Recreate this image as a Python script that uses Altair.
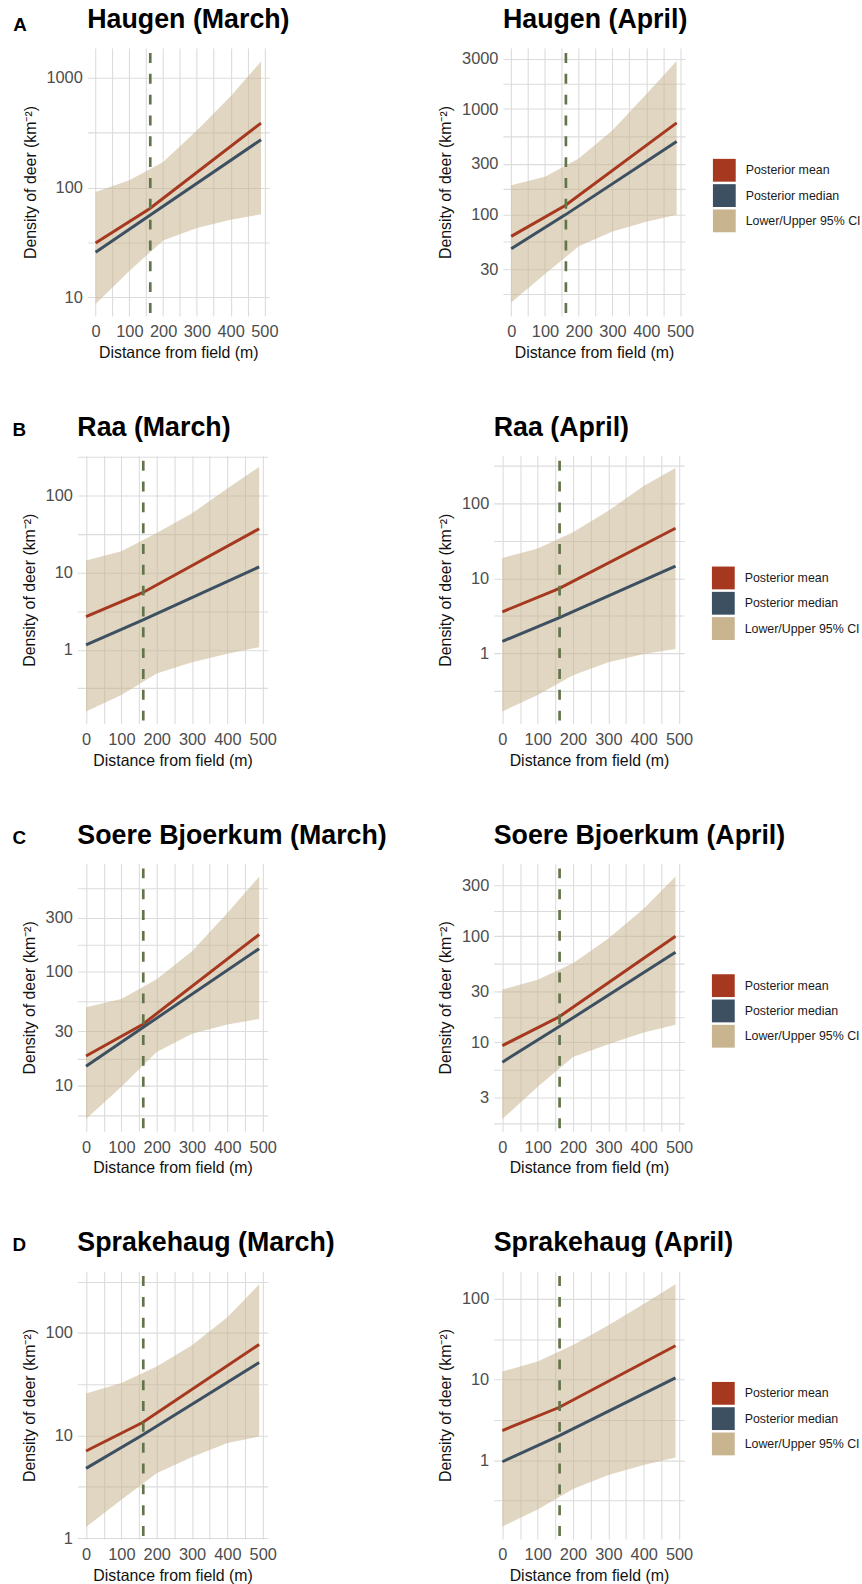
import altair as alt
import pandas as pd

# ---------------- data ----------------
X_BAND = [0, 100, 200, 300, 400, 490]      # x positions of ribbon readings (m)
X_LINE = [0, 160, 490]                      # x positions of line readings (m)
FIELD_EDGE = [162]                          # dashed vertical line (m)

LETTERS = ["A", "B", "C", "D"]
SITES = ["Haugen", "Raa", "Soere Bjoerkum", "Sprakehaug"]
MONTHS = ["March", "April"]
SERIES = ["Posterior mean", "Posterior median", "Lower/Upper 95% CI"]
COLORS = ["#a6381f", "#3c5061", "#c8b48e"]

# Haugen
haugen_march_mean = [31.3, 64, 385]
haugen_march_median = [25.8, 55.6, 272]
haugen_march_lower = [8.7, 17.4, 33, 42.7, 50.8, 57]
haugen_march_upper = [91, 116, 170, 330, 676, 1400]
haugen_april_mean = [61.6, 121, 738]
haugen_april_median = [47, 98.6, 491]
haugen_april_lower = [14.5, 27, 49.6, 68.6, 85, 98.6]
haugen_april_upper = [189, 227, 338, 627, 1380, 2860]
# Raa
raa_march_mean = [2.69, 5.5, 37.2]
raa_march_median = [1.16, 2.43, 11.9]
raa_march_lower = [0.158, 0.258, 0.49, 0.69, 0.89, 1.08]
raa_march_upper = [14.4, 19, 32.7, 59, 124, 236]
raa_april_mean = [3.58, 7.3, 46.8]
raa_april_median = [1.44, 2.98, 14.6]
raa_april_lower = [0.167, 0.277, 0.51, 0.76, 0.98, 1.14]
raa_april_upper = [18.8, 25, 41.5, 80, 171, 298]
# Soere Bjoerkum
soere_march_mean = [18.2, 34.5, 213]
soere_march_median = [14.8, 32.3, 160]
soere_march_lower = [5.08, 9.8, 19.8, 28.6, 34.5, 38.6]
soere_march_upper = [48.9, 57.8, 86, 152, 329, 687]
soere_april_mean = [9.3, 17.3, 100]
soere_april_median = [6.5, 14.0, 70.5]
soere_april_lower = [1.89, 3.81, 7.25, 9.6, 12.4, 14.6]
soere_april_upper = [31.4, 38.9, 55.6, 95, 181, 365]
# Sprakehaug
sprake_march_mean = [7.07, 13.4, 77.3]
sprake_march_median = [4.78, 10.1, 51.5]
sprake_march_lower = [1.28, 2.37, 4.28, 6.19, 8.44, 9.78]
sprake_march_upper = [25.7, 32.6, 47.1, 76, 142.5, 298]
sprake_april_mean = [2.33, 4.5, 26.3]
sprake_april_median = [0.955, 2.0, 10.5]
sprake_april_lower = [0.15, 0.244, 0.437, 0.655, 0.868, 1.08]
sprake_april_upper = [12.6, 16.8, 26.8, 47.1, 86.9, 153]

# y-axis ranges and tick labels (major = labelled, minor = grid only)
Y_DOMAINS = [[[6.8, 1850], [10.8, 3800]],
             [[0.11, 330], [0.115, 435]],
             [[3.97, 898], [1.45, 485]],
             [[0.98, 401], [0.105, 222]]]
Y_MAJOR = [[[10, 100, 1000], [30, 100, 300, 1000, 3000]],
           [[1, 10, 100], [1, 10, 100]],
           [[10, 30, 100, 300], [3, 10, 30, 100, 300]],
           [[1, 10, 100], [1, 10, 100]]]
Y_MINOR = [[[31.6, 316], [17.3, 54.8, 173, 548, 1732]],
           [[0.316, 3.16, 31.6, 316], [0.316, 3.16, 31.6, 316]],
           [[5.48, 17.3, 54.8, 173, 548], [1.73, 5.48, 17.3, 54.8, 173]],
           [[3.16, 31.6, 316], [0.316, 3.16, 31.6]]]
X_TICKS = [0, 50, 100, 150, 200, 250, 300, 350, 400, 450, 500]

PANELS = [
    [(haugen_march_mean, haugen_march_median, haugen_march_lower, haugen_march_upper),
     (haugen_april_mean, haugen_april_median, haugen_april_lower, haugen_april_upper)],
    [(raa_march_mean, raa_march_median, raa_march_lower, raa_march_upper),
     (raa_april_mean, raa_april_median, raa_april_lower, raa_april_upper)],
    [(soere_march_mean, soere_march_median, soere_march_lower, soere_march_upper),
     (soere_april_mean, soere_april_median, soere_april_lower, soere_april_upper)],
    [(sprake_march_mean, sprake_march_median, sprake_march_lower, sprake_march_upper),
     (sprake_april_mean, sprake_april_median, sprake_april_lower, sprake_april_upper)],
]

# ---------------- layout settings ----------------
FONT = "Liberation Sans"
ROW_WIDTH = [183.5, 192, 192, 192]
ROW_SPACING = [235, 227.7, 227.7, 227.7]
ROW_INDENT = [10.4, 1, 1, 1]          # row A's panels sit a little further right
LETTER_DX = [74.7, 65.3, 65.3, 65.3]
LETTER_Y = [-17, -20, -20, -20]
LEGEND_X = [211.7, 220, 220, 220]
PLOT_H = 270

color_scale = alt.Scale(domain=SERIES, range=COLORS)
x_scale = alt.Scale(domain=[-24.5, 514.5], nice=False, zero=False)
x_axis = alt.Axis(values=X_TICKS, title="Distance from field (m)",
                  labelExpr="datum.value % 100 === 0 ? datum.label : ''",
                  labelFlush=False, labelOverlap=False, labelPadding=8, titlePadding=4.5)


def text_layer(text, x, y, size):
    return alt.Chart(alt.Data(values=[{"t": text}])).mark_text(
        align="left", baseline="alphabetic", font=FONT, fontSize=size,
        fontWeight="bold", color="black").encode(
        text="t:N", x=alt.value(x), y=alt.value(y))


def spacer(w):
    return alt.Chart(alt.Data(values=[{"s": 0}])).mark_point(opacity=0).properties(
        width=w, height=PLOT_H)


def panel(r, c):
    mean, median, lower, upper = PANELS[r][c]
    majors, minors = Y_MAJOR[r][c], Y_MINOR[r][c]
    band_df = pd.DataFrame({"x": X_BAND, "lower": lower, "upper": upper,
                            "series": [SERIES[2]] * len(X_BAND)})
    line_df = pd.DataFrame({"x": X_LINE + X_LINE, "value": mean + median,
                            "series": [SERIES[0]] * len(X_LINE) + [SERIES[1]] * len(X_LINE)})
    edge_df = pd.DataFrame({"x": FIELD_EDGE})

    y_scale = alt.Scale(type="log", domain=Y_DOMAINS[r][c], nice=False)
    y_axis = alt.Axis(values=sorted(majors + minors), title="Density of deer (km⁻²)",
                      labelExpr=f"indexof({majors}, datum.value) >= 0 ? format(datum.value, 'd') : ''",
                      labelOverlap=False, labelPadding=5, titlePadding=8)

    if c == 1:
        legend = alt.Legend(orient="none", legendX=LEGEND_X[r], legendY=111.7, title=None,
                            direction="vertical", symbolType="square", symbolSize=529,
                            symbolOpacity=1, symbolStrokeWidth=0, labelFont=FONT,
                            labelFontSize=12.5, labelColor="#1a1a1a", labelOffset=10,
                            rowPadding=2.5, padding=0)
        line_color = alt.Color("series:N", scale=color_scale)
    else:
        legend = None
        line_color = alt.Color("series:N", scale=color_scale, legend=None)

    band = alt.Chart(band_df).mark_area(opacity=0.55).encode(
        x=alt.X("x:Q", scale=x_scale, axis=x_axis),
        y=alt.Y("lower:Q", scale=y_scale, axis=y_axis),
        y2="upper:Q",
        color=alt.Color("series:N", scale=color_scale, legend=legend),
    )
    lines = alt.Chart(line_df).mark_line(strokeWidth=3).encode(
        x=alt.X("x:Q", scale=x_scale, axis=x_axis),
        y=alt.Y("value:Q", scale=y_scale, axis=y_axis),
        color=line_color,
    )
    rule = alt.Chart(edge_df).mark_rule(color="#62744a", strokeWidth=2.7,
                                        strokeDash=[10, 11], strokeDashOffset=-5).encode(
        x=alt.X("x:Q", scale=x_scale, axis=x_axis),
    )
    layers = [band, lines, rule,
              text_layer(f"{SITES[r]} ({MONTHS[c]})", 0, -20, 27)]
    if c == 0:
        layers.append(text_layer(LETTERS[r], -LETTER_DX[r], LETTER_Y[r], 19))
    return alt.layer(*layers).properties(width=ROW_WIDTH[r], height=PLOT_H)


rows = []
for r in range(4):
    pair = alt.hconcat(panel(r, 0), panel(r, 1), spacing=ROW_SPACING[r],
                       bounds="flush").resolve_scale(color="independent")
    row = alt.hconcat(spacer(ROW_INDENT[r]), pair, spacing=0,
                      bounds="flush").resolve_scale(color="independent")
    rows.append(row)

chart = alt.concat(*rows, columns=1, align="none", spacing=54).resolve_scale(
    color="independent").properties(
    padding={"left": 12, "top": 0, "right": 0, "bottom": 0}
).configure_view(stroke=None).configure_axis(
    domain=False, ticks=False, gridColor="#dcdcdc", gridWidth=1.1,
    labelFont=FONT, labelFontSize=16.5, labelColor="#4d4d4d",
    titleFont=FONT, titleFontSize=16, titleColor="#111111", titleFontWeight="normal",
)

chart.save("out.html", embed_options={"renderer": "svg", "actions": False})
